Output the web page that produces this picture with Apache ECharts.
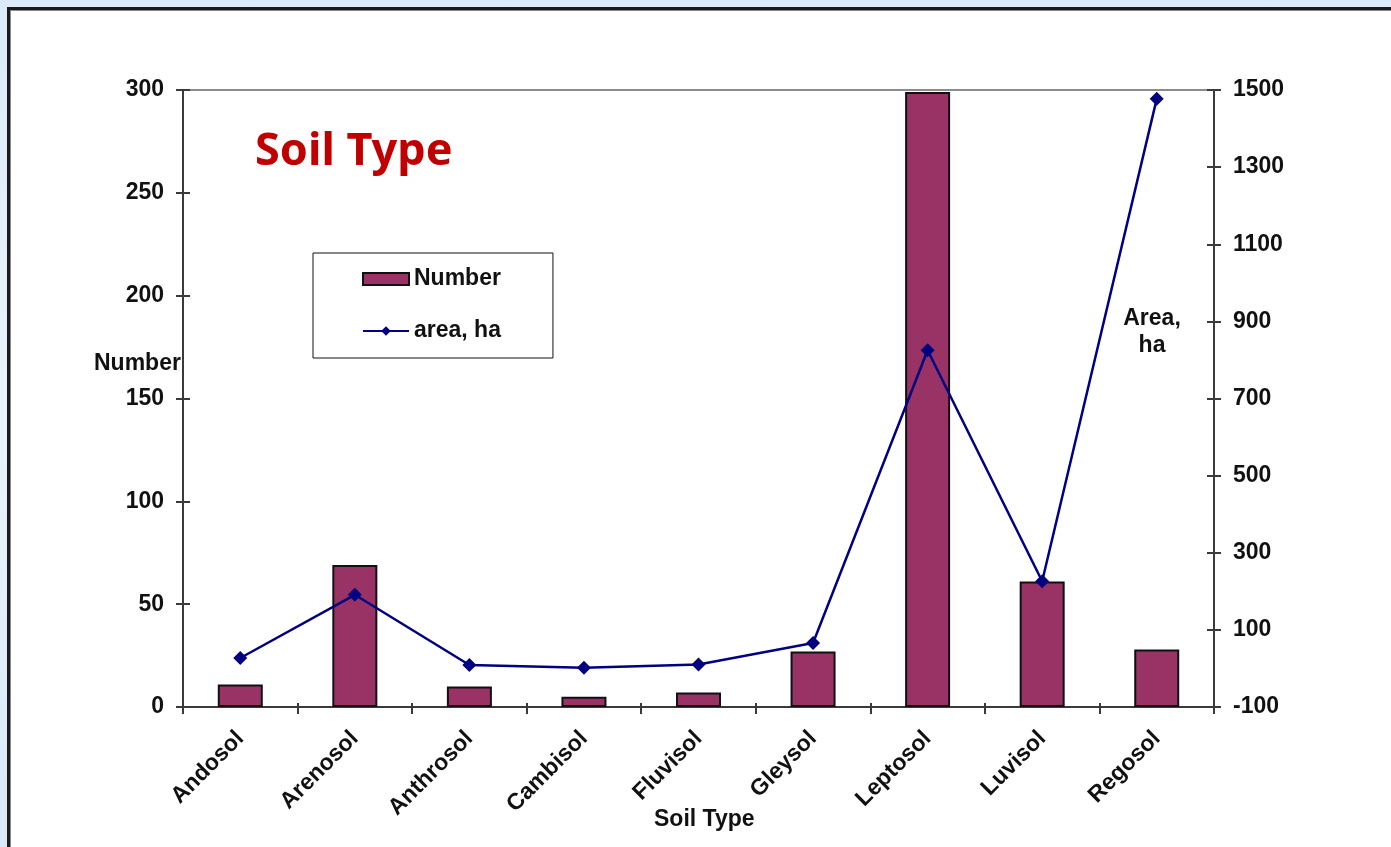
<!DOCTYPE html>
<html>
<head>
<meta charset="utf-8">
<script src="https://cdn.jsdelivr.net/npm/echarts@6/dist/echarts.min.js"></script>
<style>
  html, body { margin: 0; padding: 0; width: 1391px; height: 847px; overflow: hidden; }
  body { background: linear-gradient(180deg, #dcebf9 0%, #e8f2fb 50%, #d9e9f8 100%); position: relative; }
  #frame {
    position: absolute; left: 7px; top: 7px; right: 0; bottom: -10px;
    background: #ffffff;
    border-top: 3px solid #1a1a1a; border-left: 3px solid #1a1a1a;
    box-shadow: inset 1px 1px 0 #8a8a8a;
  }
  #chart { position: absolute; left: 0; top: 0; width: 1391px; height: 847px; }
</style>
</head>
<body>
<div id="frame"></div>
<div id="chart"></div>
<script>
// Soil types and their counts / areas
const categories = ['Andosol', 'Arenosol', 'Anthrosol', 'Cambisol', 'Fluvisol', 'Gleysol', 'Leptosol', 'Luvisol', 'Regosol'];
const numberValues = [11, 69, 10, 5, 7, 27, 299, 61, 28];
const areaValues = [27, 191, 9, 2, 10, 66, 825, 226, 1477];

const leftTicks = { min: 0, max: 300, interval: 50 };
const rightTicks = { min: -100, max: 1500, interval: 200 };

const FONT = 'Liberation Sans, Arial, sans-serif';
const axisColor = '#3a3a3a';
const labelStyle = { fontFamily: FONT, fontWeight: 'bold', fontSize: 23, color: '#111' };

const chart = echarts.init(document.getElementById('chart'), null, { renderer: 'canvas' });

function valueAxis(pos, ticks, withLabels, inside) {
  return {
    type: 'value', position: pos, min: ticks.min, max: ticks.max, interval: ticks.interval,
    splitLine: { show: false },
    axisLine: { show: withLabels, onZero: false, lineStyle: { color: axisColor, width: 2 } },
    axisTick: { show: true, inside: inside, length: 7, lineStyle: { color: axisColor, width: 2 } },
    axisLabel: withLabels
      ? Object.assign({ margin: 19, formatter: v => String(v) }, labelStyle)
      : { show: false }
  };
}

chart.setOption({
  animation: false,
  backgroundColor: 'transparent',
  grid: {
    left: 183, right: 177, top: 90, bottom: 140,
    show: true, borderColor: '#8c8c8c', borderWidth: 2, backgroundColor: 'transparent'
  },
  graphic: [
    {
      type: 'text', left: 255, top: 130,
      style: {
        text: 'Soil Type', fill: '#c00000',
        font: 'bold 45px "Noto Sans", "Open Sans", sans-serif',
        shadowColor: 'rgba(0,0,0,0.35)', shadowBlur: 3, shadowOffsetX: 2, shadowOffsetY: 2
      }
    },
    {
      type: 'text', left: 94, top: 352,
      style: { text: 'Number', fill: '#111', font: 'bold 23px ' + FONT }
    },
    {
      type: 'text', x: 1152, y: 305,
      style: { text: 'Area,\nha', fill: '#111', font: 'bold 23px ' + FONT, textAlign: 'center', lineHeight: 27 }
    },
    {
      type: 'text', left: 654, top: 808,
      style: { text: 'Soil Type', fill: '#111', font: 'bold 23px ' + FONT }
    }
  ],
  legend: {
    orient: 'vertical',
    left: 313, top: 253,
    padding: [14, 52, 15, 49],
    itemGap: 28,
    itemWidth: 46, itemHeight: 12,
    backgroundColor: '#ffffff', borderColor: '#111', borderWidth: 1,
    textStyle: Object.assign({ lineHeight: 24 }, labelStyle),
    data: [
      { name: 'Number', icon: 'rect' },
      { name: 'area, ha' }
    ]
  },
  xAxis: [
    {
      type: 'category', data: categories, boundaryGap: true,
      axisLine: { onZero: false, lineStyle: { color: axisColor, width: 2 } },
      axisTick: { show: true, length: 7, lineStyle: { color: axisColor, width: 2 } },
      axisLabel: Object.assign({ rotate: 45, margin: 28, interval: 0 }, labelStyle)
    },
    {
      type: 'category', data: categories, boundaryGap: true, position: 'bottom',
      axisLine: { show: false, onZero: false },
      axisTick: { show: true, inside: true, length: 4, lineStyle: { color: axisColor, width: 2 } },
      axisLabel: { show: false }
    }
  ],
  yAxis: [
    valueAxis('left', leftTicks, true, false),
    valueAxis('right', rightTicks, true, false),
    valueAxis('left', leftTicks, false, true),
    valueAxis('right', rightTicks, false, true)
  ],
  series: [
    {
      name: 'Number', type: 'bar', data: numberValues,
      xAxisIndex: 0, yAxisIndex: 0,
      barWidth: 45,
      itemStyle: { color: '#993366', borderColor: '#111', borderWidth: 2 }
    },
    {
      name: 'area, ha', type: 'line', data: areaValues,
      xAxisIndex: 0, yAxisIndex: 1,
      symbol: 'diamond', symbolSize: 14,
      lineStyle: { color: '#000080', width: 2.5 },
      itemStyle: { color: '#000080' }
    }
  ]
});
</script>
</body>
</html>
